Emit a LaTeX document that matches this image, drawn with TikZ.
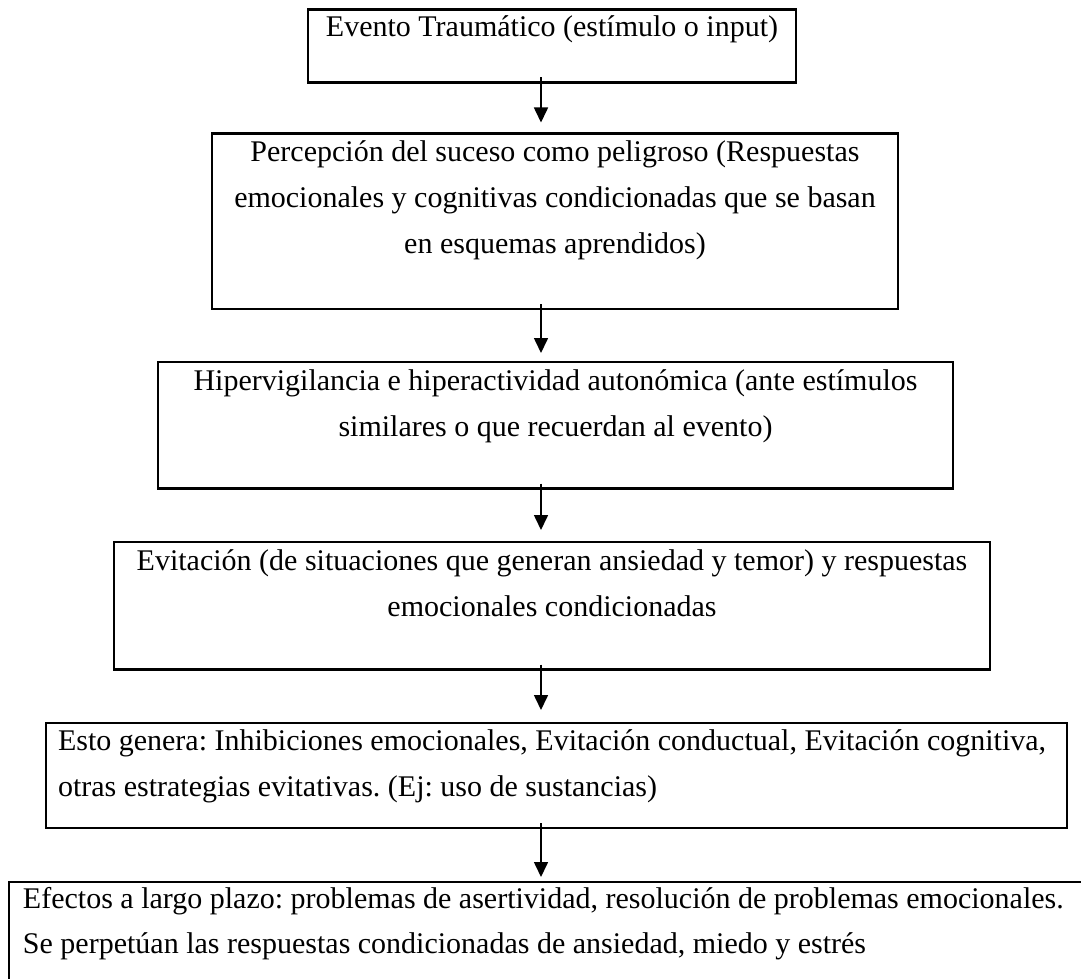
\documentclass[tikz,border=0pt]{standalone}
\usepackage{fontspec}
\setmainfont{Liberation Serif}
\usetikzlibrary{arrows.meta}
\frenchspacing
\begin{document}
\begin{tikzpicture}[x=1pt,y=-1pt,
  box/.style={draw, line width=2.4pt, inner sep=0pt, outer sep=0pt, anchor=north west},
  txt/.style={font=\fontsize{30}{34}\selectfont, inner sep=0pt, outer sep=0pt},
  arr/.style={line width=1.6pt, -{Triangle[width=14pt,length=15pt]}}]
\clip (0,0) rectangle (1081,979);
\fill[white] (0,0) rectangle (1081,979);
\coordinate (ax) at (541,0);
% boxes
\node[box, minimum width=488pt, minimum height=73pt] (b1) at (308,9.5) {};
\node[box, minimum width=686pt, minimum height=175.5pt] (b2) at (212,133.5) {};
\node[box, minimum width=795pt, minimum height=126.5pt] (b3) at (158,362) {};
\node[box, minimum width=876pt, minimum height=127.5pt] (b4) at (114,542) {};
\node[box, minimum width=1021pt, minimum height=105pt] (b5) at (46,723) {};
\node[box, line width=1.6pt, minimum width=1100pt, minimum height=200pt] (b6) at (9,882) {};
% texts
\node[txt, anchor=base] (t1) at (552,37) {Evento Traumático (estímulo o input)};
\node[txt, anchor=base] (t2a) at (555,161.5) {Percepción del suceso como peligroso (Respuestas};
\node[txt, anchor=base] (t2b) at (555,207.5) {emocionales y cognitivas condicionadas que se basan};
\node[txt, anchor=base] (t2c) at (555,253.5) {en esquemas aprendidos)};
\node[txt, anchor=base] (t3a) at (555.5,390) {Hipervigilancia e hiperactividad autonómica (ante estímulos};
\node[txt, anchor=base] (t3b) at (555.5,436) {similares o que recuerdan al evento)};
\node[txt, anchor=base] (t4a) at (552,570) {Evitación (de situaciones que generan ansiedad y temor) y respuestas};
\node[txt, anchor=base] (t4b) at (552,616) {emocionales condicionadas};
\node[txt, anchor=base west] (t5a) at (58,750) {Esto genera: Inhibiciones emocionales, Evitación conductual, Evitación cognitiva,};
\node[txt, anchor=base west] (t5b) at (58,796) {otras estrategias evitativas. (Ej: uso de sustancias)};
\node[txt, anchor=base west] (t6a) at (23,908) {Efectos a largo plazo: problemas de asertividad, resolución de problemas emocionales.};
\node[txt, anchor=base west] (t6b) at (23,953) {Se perpetúan las respuestas condicionadas de ansiedad, miedo y estrés};
% arrows
\draw[arr, shorten >=11pt] (b1.south -| ax) ++(0,-5) -- (b2.north -| ax);
\draw[arr, shorten >=9pt] (b2.south -| ax) ++(0,-5) -- (b3.north -| ax);
\draw[arr, shorten >=12pt] (b3.south -| ax) ++(0,-5) -- (b4.north -| ax);
\draw[arr, shorten >=13pt] (b4.south -| ax) ++(0,-5) -- (b5.north -| ax);
\draw[arr, shorten >=5pt] (b5.south -| ax) ++(0,-5) -- (b6.north -| ax);
\end{tikzpicture}
\end{document}
